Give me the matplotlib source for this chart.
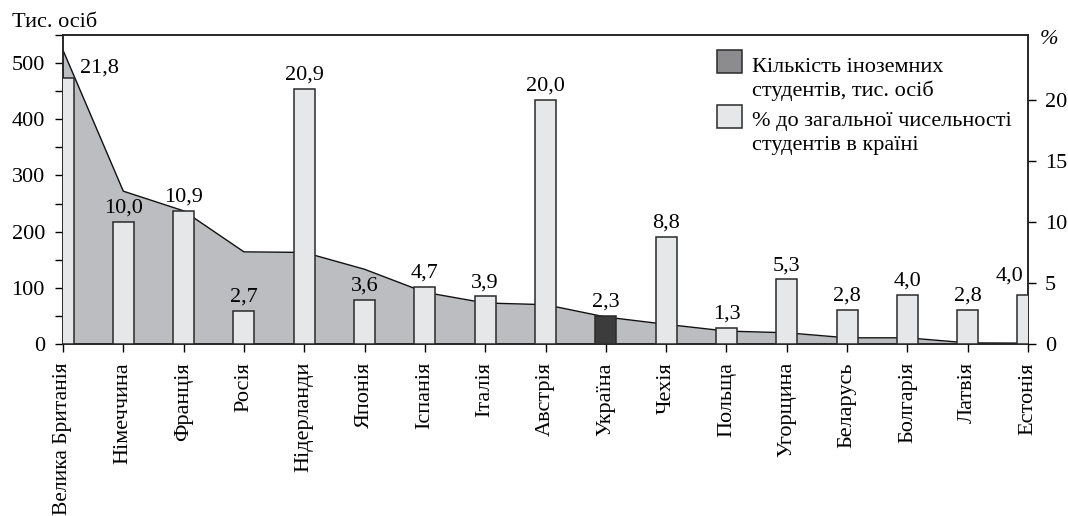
import matplotlib
matplotlib.use("Agg")
import matplotlib.pyplot as plt
from matplotlib.patches import Rectangle
from matplotlib.ticker import MultipleLocator
import numpy as np

plt.rcParams['font.family'] = ['Liberation Serif', 'DejaVu Serif']

countries = ["Велика Британія", "Німеччина", "Франція", "Росія", "Нідерланди",
             "Японія", "Іспанія", "Італія", "Австрія", "Україна", "Чехія",
             "Польща", "Угорщина", "Беларусь", "Болгарія", "Латвія", "Естонія"]
students_thous = [523, 272, 237, 164, 163, 133, 92, 73, 70, 48, 35,
                  23, 20, 11, 11, 2, 1.5]
share_pct = [21.8, 10.0, 10.9, 2.7, 20.9, 3.6, 4.7, 3.9, 20.0, 2.3, 8.8,
             1.3, 5.3, 2.8, 4.0, 2.8, 4.0]
share_labels = ["21,8", "10,0", "10,9", "2,7", "20,9", "3,6", "4,7", "3,9",
                "20,0", "2,3", "8,8", "1,3", "5,3", "2,8", "4,0", "2,8", "4,0"]
highlight = "Україна"
legend_lines = [["Кількість іноземних", "студентів, тис. осіб"],
                ["% до загальної чисельності", "студентів в країні"]]

area_color = "#bcbdc0"
legend_area_color = "#8c8c8e"
bar_color = "#e6e7e8"
bar_highlight = "#3c3c3c"
edge = "#2a2a2a"
FS = 16

W, H = 1068, 516
fig = plt.figure(figsize=(W / 100, H / 100), dpi=100)
ax = fig.add_axes([63 / W, 1 - 344 / H, (1028 - 63) / W, (344 - 35) / H])
x = np.arange(len(countries))

ax.fill_between(x, students_thous, 0, color=area_color, linewidth=0, zorder=1)
ax.plot(x, students_thous, color="#111111", lw=1.0, zorder=2)
ax.set_xlim(0, len(countries) - 1)
ax.set_ylim(0, 550)
ax.yaxis.set_major_locator(MultipleLocator(100))
ax.yaxis.set_minor_locator(MultipleLocator(50))
ax.tick_params(axis='y', which='major', length=6, width=1, labelsize=FS, pad=7)
ax.tick_params(axis='y', which='minor', length=6, width=1)
ax.set_xticks(x)
ax.set_xticklabels(countries, rotation=90, va='top', ha='center', fontsize=FS)
ax.tick_params(axis='x', length=6, width=1, pad=7)
for s in ax.spines.values():
    s.set_linewidth(1.1)
    s.set_color("#222222")

ax2 = ax.twinx()
colors = [bar_highlight if c == highlight else bar_color for c in countries]
ax2.bar(x, share_pct, width=0.35, color=colors, edgecolor=edge,
        linewidth=1.1, zorder=3)
ax2.set_ylim(0, 25.3)
ax2.set_xlim(0, len(countries) - 1)
ax2.set_yticks([0, 5, 10, 15, 20])
ax2.tick_params(axis='y', length=6, width=1, labelsize=FS, pad=6)
for s in ax2.spines.values():
    s.set_linewidth(1.1)
    s.set_color("#222222")

n = len(countries)
for i, (v, lab) in enumerate(zip(share_pct, share_labels)):
    if i == 0:
        ax2.annotate(lab, (i, v), xytext=(12, 0), textcoords='offset points',
                     ha='left', va='bottom', fontsize=FS)
    elif i == n - 1:
        ax2.annotate(lab, (i, v), xytext=(-3, 7), textcoords='offset points',
                     ha='right', va='bottom', fontsize=FS)
    else:
        ax2.annotate(lab, (i, v), xytext=(0, 3), textcoords='offset points',
                     ha='center', va='bottom', fontsize=FS)

# legend drawn in figure pixel coordinates
legend_colors = [legend_area_color, bar_color]
patch_tops = [50, 105]
baselines = [[72, 96], [126, 150]]
for col, ptop, bls, lines in zip(legend_colors, patch_tops, baselines, legend_lines):
    fig.add_artist(Rectangle((717 / W, 1 - (ptop + 23) / H), 25 / W, 23 / H,
                             transform=fig.transFigure, facecolor=col,
                             edgecolor=edge, linewidth=1.1))
    for bl, line in zip(bls, lines):
        fig.text(752 / W, 1 - bl / H, line, fontsize=FS, va='baseline', ha='left')

fig.text(12 / W, 1 - 27 / H, "Тис. осіб", fontsize=FS, va='baseline', ha='left')
fig.text(1040 / W, 1 - 44 / H, "%", fontsize=FS, va='baseline', ha='left',
         style='italic')

# shrink any category label that would run off the bottom edge
fig.canvas.draw()
renderer = fig.canvas.get_renderer()
for lbl in ax.get_xticklabels():
    size = lbl.get_fontsize()
    while lbl.get_window_extent(renderer).y0 < 1 and size > 8:
        size -= 0.25
        lbl.set_fontsize(size)

fig.savefig("out.png", dpi=100)
